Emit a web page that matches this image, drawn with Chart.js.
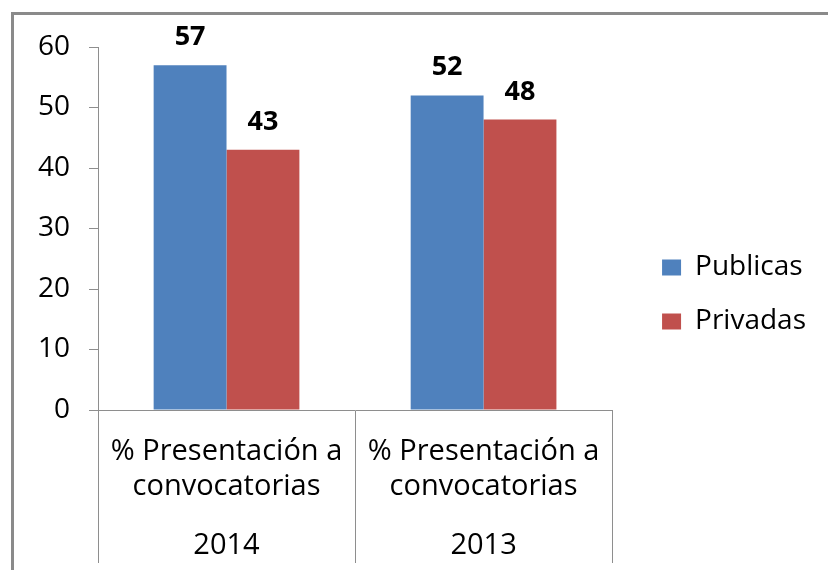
<!DOCTYPE html>
<html>
<head>
<meta charset="utf-8">
<script src="https://cdn.jsdelivr.net/npm/chart.js@4"></script>
<style>
  html, body { margin: 0; padding: 0; background: #fff; }
  #wrap { position: relative; width: 828px; height: 570px; overflow: hidden; }
  #frame {
    position: absolute; left: 11px; top: 12px; width: 900px; height: 700px;
    border-left: 3px solid #8a8a8a; border-top: 3px solid #8a8a8a;
  }
  #chart { position: absolute; left: 0; top: 0; }
</style>
</head>
<body>
<div id="wrap">
  <div id="frame"></div>
  <canvas id="chart" width="828" height="570"></canvas>
</div>
<script>
// data
const categoryLines = ['% Presentación a', 'convocatorias'];
const years = ['2014', '2013'];
const seriesNames = ['Publicas', 'Privadas'];
const publicas = [57, 52];
const privadas = [43, 48];
const yMax = 60;
const yStep = 10;

const blue = '#4F81BD';
const red = '#C0504D';
const axisGray = '#8e8e8e';

Chart.defaults.font.family = '"Open Sans", "DejaVu Sans", sans-serif';
Chart.defaults.color = '#000';

// category text on first line, wrapped part lower, year at the bottom
const labels = years.map(year => [categoryLines[0], '', '', categoryLines[1], '', '', '', '', year]);

// bold numbers above each bar
const valueLabels = {
    id: 'valueLabels',
    afterDatasetsDraw(chart) {
        const ctx = chart.ctx;
        ctx.save();
        ctx.font = 'bold 27px "Open Sans", "DejaVu Sans", sans-serif';
        ctx.fillStyle = '#000';
        ctx.textAlign = 'center';
        ctx.textBaseline = 'alphabetic';
        chart.data.datasets.forEach((ds, i) => {
            chart.getDatasetMeta(i).data.forEach((bar, j) => {
                ctx.fillText(String(ds.data[j]), bar.x, bar.y - 20);
            });
        });
        ctx.restore();
    }
};

new Chart(document.getElementById('chart').getContext('2d'), {
    type: 'bar',
    data: {
        labels: labels,
        datasets: [
            { label: seriesNames[0], data: publicas, backgroundColor: blue, yAxisID: 'y' },
            { label: seriesNames[1], data: privadas, backgroundColor: red, yAxisID: 'y' }
        ]
    },
    options: {
        responsive: false,
        animation: false,
        events: [],
        categoryPercentage: 0.567,
        barPercentage: 1,
        layout: { padding: { top: 47, bottom: 5, left: 0, right: 12 } },
        scales: {
            x: {
                grid: {
                    display: true,
                    offset: true,
                    drawOnChartArea: false,
                    drawTicks: true,
                    tickLength: 153,
                    color: axisGray,
                    lineWidth: 1
                },
                border: { display: true, color: axisGray, width: 1 },
                ticks: {
                    autoSkip: false,
                    maxRotation: 0,
                    minRotation: 0,
                    padding: -117,
                    color: '#000',
                    font: { size: 29, lineHeight: '11.75px' }
                },
                afterFit: s => { s.height = 155; }
            },
            y: {
                min: 0,
                max: yMax,
                grid: {
                    drawOnChartArea: false,
                    drawTicks: true,
                    tickLength: 9,
                    color: axisGray
                },
                border: { display: true, color: axisGray, width: 1 },
                ticks: {
                    stepSize: yStep,
                    padding: 19,
                    color: '#000',
                    font: { size: 28 }
                },
                afterFit: s => { s.width = 98; }
            },
            // empty spacer between plot and legend
            yPad: {
                position: 'right',
                display: true,
                grid: { display: false },
                border: { display: false },
                ticks: { display: false },
                afterFit: s => { s.width = 24; }
            }
        },
        plugins: {
            legend: {
                position: 'right',
                align: 'start',
                maxWidth: 260,
                // empty title used only as vertical spacer
                title: {
                    display: true,
                    text: '',
                    font: { size: 10, lineHeight: '10px' },
                    padding: { top: 0, bottom: 170.5 }
                },
                labels: {
                    boxWidth: 19,
                    boxHeight: 16,
                    padding: 26,
                    color: '#000',
                    font: { size: 28 }
                }
            },
            tooltip: { enabled: false },
            title: { display: false }
        }
    },
    plugins: [valueLabels]
});
</script>
</body>
</html>
